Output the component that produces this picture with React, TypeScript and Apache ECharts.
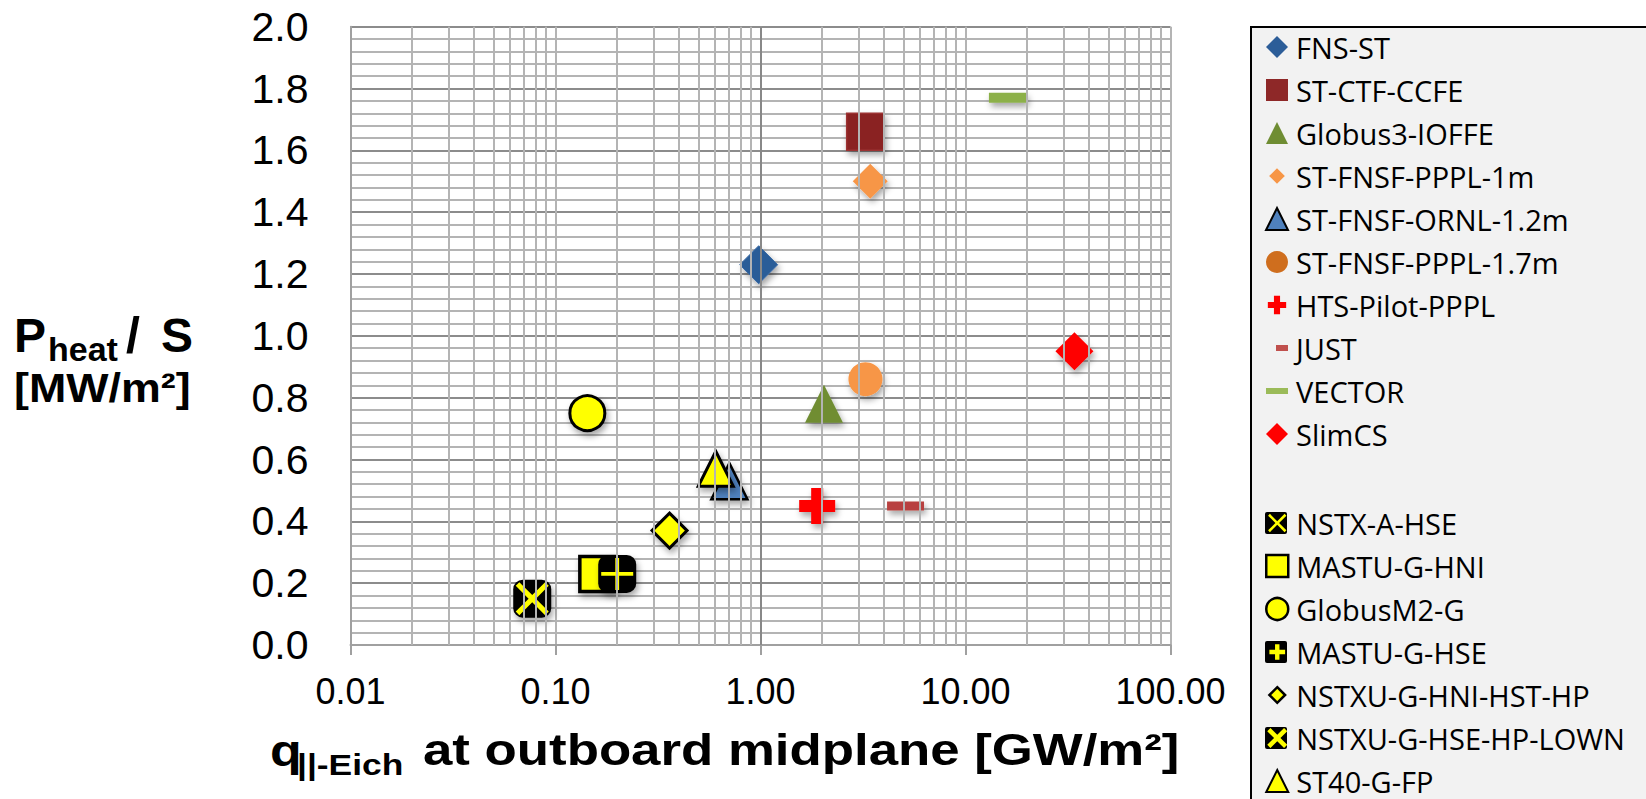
import React, { useEffect, useRef } from 'react';
import * as echarts from 'echarts';

// ---------- data ----------
const seriesNames = [
  'FNS-ST', 'ST-CTF-CCFE', 'Globus3-IOFFE', 'ST-FNSF-PPPL-1m', 'ST-FNSF-ORNL-1.2m',
  'ST-FNSF-PPPL-1.7m', 'HTS-Pilot-PPPL', 'JUST', 'VECTOR', 'SlimCS',
  'NSTX-A-HSE', 'MASTU-G-HNI', 'GlobusM2-G', 'MASTU-G-HSE', 'NSTXU-G-HNI-HST-HP',
  'NSTXU-G-HSE-HP-LOWN', 'ST40-G-FP',
];
// q||-Eich at outboard midplane [GW/m2]
const qEich: (number | null)[] = [0.98, 3.24, 2.04, 3.43, 0.705, 3.25, 1.89, 5.1, 16.1, 34, 0.077, 0.16, 0.143, 0.2, 0.36, null, 0.605];
// Pheat / S [MW/m2]
const pHeatS: (number | null)[] = [1.23, 1.66, 0.78, 1.5, 0.53, 0.86, 0.45, 0.45, 1.77, 0.95, 0.15, 0.23, 0.75, 0.23, 0.37, null, 0.57];

const legendGroupA = seriesNames.slice(0, 10);
const legendGroupB = seriesNames.slice(10);

const xMin = 0.01;
const xMax = 100;
const yMin = 0;
const yMax = 2;
const yInterval = 0.2;
const minorXGrid = [
  0.02, 0.03, 0.04, 0.05, 0.06, 0.07, 0.08, 0.09,
  0.2, 0.3, 0.4, 0.5, 0.6, 0.7, 0.8, 0.9,
  2, 3, 4, 5, 6, 7, 8, 9,
  20, 30, 40, 50, 60, 70, 80, 90,
];
const emphasisXGrid = [1];

// ---------- styles ----------
const PLUS_RED = 'path://M1,0H2V1H3V2H2V3H1V2H0V1H1Z';
const PLUS_RED_ICON = 'path://M-0.3,-0.3M3.3,3.3M1,0H2V1H3V2H2V3H1V2H0V1H1Z';
const X_THIN = 'path://M0,1.1L1.1,0L5,3.9L8.9,0L10,1.1L6.1,5L10,8.9L8.9,10L5,6.1L1.1,10L0,8.9L3.9,5Z';
const X_THIN_ICON = 'path://M-1,-1M11,11M0,1L1,0L5,4L9,0L10,1L6,5L10,9L9,10L5,6L1,10L0,9L4,5Z';
const X_THICK_ICON = 'path://M-0.5,-0.5M10.5,10.5M0,1.6L1.6,0L5,3.4L8.4,0L10,1.6L6.6,5L10,8.4L8.4,10L5,6.6L1.6,10L0,8.4L3.4,5Z';
const PLUS_THIN = 'path://M4.4,0H5.6V4.4H10V5.6H5.6V10H4.4V5.6H0V4.4H4.4Z';
const PLUS_ICON = 'path://M-2,-2M12,12M3.6,0H6.4V3.6H10V6.4H6.4V10H3.6V6.4H0V3.6H3.6Z';
const DIAMOND_SMALL_ICON = 'path://M-2,-2M12,12M5,0L10,5L5,10L0,5Z';
const DASH_JUST_ICON = 'path://M0,0M22,22M10,8H22V14H10Z';
const DASH_VECTOR_ICON = 'path://M0,0M22,22M0,8H22V14H0Z';

type Spec = {
  symbol: string; size: number | number[]; color: string; border?: string; bw?: number; bg?: boolean;
  icon: string; iconColor?: string; iconBorder?: string; iconBw?: number;
};

const specs: Record<string, Spec> = {
  'FNS-ST': { symbol: 'diamond', size: 38, color: '#2c5d98', border: '#3a6aa5', bw: 1, icon: 'diamond' },
  'ST-CTF-CCFE': { symbol: 'rect', size: 37, color: '#8a2424', border: '#9c3030', bw: 1.5, icon: 'rect', iconColor: '#8e2828' },
  'Globus3-IOFFE': { symbol: 'triangle', size: 38, color: '#6f8d33', icon: 'triangle' },
  'ST-FNSF-PPPL-1m': { symbol: 'diamond', size: 35, color: '#f79646', icon: DIAMOND_SMALL_ICON },
  'ST-FNSF-ORNL-1.2m': { symbol: 'triangle', size: 36, color: '#4f81bd', border: '#000', bw: 2.5, icon: 'triangle', iconBorder: '#000', iconBw: 2 },
  'ST-FNSF-PPPL-1.7m': { symbol: 'circle', size: 34, color: '#f79646', icon: 'circle', iconColor: '#cf6e1e' },
  'HTS-Pilot-PPPL': { symbol: PLUS_RED, size: 36, color: '#ff0000', icon: PLUS_RED_ICON },
  'JUST': { symbol: 'rect', size: [37, 9], color: '#b8413f', icon: DASH_JUST_ICON, iconColor: '#c0504d' },
  'VECTOR': { symbol: 'rect', size: [38, 10], color: '#8cb04a', icon: DASH_VECTOR_ICON, iconColor: '#9bbb59' },
  'SlimCS': { symbol: 'diamond', size: 38, color: '#ff0000', icon: 'diamond' },
  'NSTX-A-HSE': { symbol: X_THIN, size: 33, color: '#ffff00', bg: true, icon: X_THIN_ICON },
  'MASTU-G-HNI': { symbol: 'rect', size: 35, color: '#ffff00', border: '#000', bw: 3.5, icon: 'rect', iconBorder: '#000', iconBw: 2.5 },
  'GlobusM2-G': { symbol: 'circle', size: 35, color: '#ffff00', border: '#000', bw: 3, icon: 'circle', iconBorder: '#000', iconBw: 2.5 },
  'MASTU-G-HSE': { symbol: PLUS_THIN, size: 32, color: '#ffff00', bg: true, icon: PLUS_ICON },
  'NSTXU-G-HNI-HST-HP': { symbol: 'diamond', size: 35, color: '#ffff00', border: '#000', bw: 3, icon: DIAMOND_SMALL_ICON, iconBorder: '#000', iconBw: 2.5 },
  'NSTXU-G-HSE-HP-LOWN': { symbol: X_THIN, size: 33, color: '#ffff00', bg: true, icon: X_THICK_ICON },
  'ST40-G-FP': { symbol: 'triangle', size: 35, color: '#ffff00', border: '#000', bw: 3, icon: 'triangle', iconBorder: '#000', iconBw: 2 },
};

const shadow = { shadowBlur: 6, shadowColor: 'rgba(0,0,0,0.35)', shadowOffsetX: 2, shadowOffsetY: 4 };

const FONT_AXIS = 'Liberation Sans';
const FONT_LEGEND = 'Open Sans';

// legend layout
const legendIconLeft = 1265;
const legendATop = 32;
const legendBTop = 508;
const legendItemGap = 13;
const legendLineH = 30;
const legendStep = legendLineH + legendItemGap;

function buildOption() {
  const series: any[] = [];

  // grid helpers: minor log gridlines and the darker line at 1
  series.push({
    type: 'scatter', name: '__minorGrid', data: [], z: 1, silent: true,
    markLine: {
      silent: true, symbol: ['none', 'none'], label: { show: false }, animation: false,
      lineStyle: { type: 'solid', color: '#b4b4b4', width: 2, opacity: 1 },
      data: minorXGrid.map((v) => ({ xAxis: v })),
    },
  });
  series.push({
    type: 'scatter', name: '__majorGrid', data: [], z: 1, silent: true,
    markLine: {
      silent: true, symbol: ['none', 'none'], label: { show: false }, animation: false,
      lineStyle: { type: 'solid', color: '#888888', width: 2, opacity: 1 },
      data: emphasisXGrid.map((v) => ({ xAxis: v })),
    },
  });

  seriesNames.forEach((name, i) => {
    const s = specs[name];
    const data = qEich[i] != null && pHeatS[i] != null ? [[qEich[i], pHeatS[i]]] : [];
    if (s.bg) {
      series.push({
        type: 'scatter', name: '__bg_' + name, data, z: 3, symbol: 'roundRect', symbolSize: 38,
        itemStyle: { color: '#000', opacity: 1, ...shadow },
        emphasis: { disabled: true },
      });
    }
    series.push({
      type: 'scatter', name, data, z: 3, symbol: s.symbol, symbolSize: s.size,
      itemStyle: {
        color: s.color,
        opacity: 1,
        borderColor: s.border || s.color,
        borderWidth: s.bw || 0,
        ...(s.bg ? {} : shadow),
      },
      emphasis: { disabled: true },
    });
  });

  const legendItem = (name: string) => {
    const s = specs[name];
    return {
      name,
      icon: s.icon,
      itemStyle: {
        color: s.iconColor || s.color,
        opacity: 1,
        borderColor: s.iconBorder || 'transparent',
        borderWidth: s.iconBw || 0,
        shadowBlur: 0,
        shadowColor: 'rgba(0,0,0,0)',
      },
    };
  };

  const legendCommon = {
    orient: 'vertical', left: legendIconLeft, padding: 0, itemWidth: 22, itemHeight: 22,
    itemGap: legendItemGap, selectedMode: false, z: 10,
    textStyle: { fontFamily: FONT_LEGEND, fontSize: 29, color: '#000', lineHeight: legendLineH, padding: [0, 0, 0, 3] },
  };

  const bgLegendNames = ['NSTX-A-HSE', 'MASTU-G-HSE', 'NSTXU-G-HSE-HP-LOWN'];
  const bgRects = bgLegendNames.map((n) => {
    const idx = legendGroupB.indexOf(n);
    const cy = legendBTop + legendLineH / 2 + idx * legendStep;
    return {
      type: 'rect', z: 5, silent: true,
      shape: { x: legendIconLeft, y: cy - 11, width: 22, height: 22, r: 2 },
      style: { fill: '#000' },
    };
  });

  const txt = (text: string, x: number, y: number, size: number, scaleX = 1) => ({
    type: 'text', x, y, scaleX, z: 10, silent: true,
    style: {
      text, fill: '#000', fontFamily: FONT_AXIS, fontWeight: 'bold', fontSize: size,
      textAlign: 'left', textVerticalAlign: 'middle', align: 'left', verticalAlign: 'middle',
    },
  });

  return {
    animation: false,
    backgroundColor: '#ffffff',
    grid: { left: 350.5, top: 26.7, right: 475.5, bottom: 154, containLabel: false },
    xAxis: {
      type: 'log', logBase: 10, min: xMin, max: xMax,
      axisLine: { show: true, lineStyle: { color: '#a0a0a0', width: 2 } },
      axisTick: { show: true, inside: false, length: 10, lineStyle: { color: '#a0a0a0', width: 2 } },
      axisLabel: {
        fontFamily: FONT_AXIS, fontSize: 36, color: '#000', margin: 28,
        formatter: (v: number) => Number(v).toFixed(2),
      },
      splitLine: { show: true, lineStyle: { color: '#b4b4b4', width: 2 } },
    },
    yAxis: {
      type: 'value', min: yMin, max: yMax, interval: yInterval,
      axisLine: { show: true, onZero: false, lineStyle: { color: '#a0a0a0', width: 2 } },
      axisTick: { show: false },
      axisLabel: {
        fontFamily: FONT_AXIS, fontSize: 41, color: '#000', margin: 42,
        formatter: (v: number) => Number(v).toFixed(1),
      },
      splitLine: { show: true, lineStyle: { color: '#8c8c8c', width: 2 } },
      minorTick: { show: false, splitNumber: 5 },
      minorSplitLine: { show: true, lineStyle: { color: '#b4b4b4', width: 2 } },
    },
    legend: [
      { ...legendCommon, top: legendATop, data: legendGroupA.map(legendItem) },
      { ...legendCommon, top: legendBTop, data: legendGroupB.map(legendItem) },
    ],
    graphic: [
      {
        type: 'rect', z: 1, silent: true,
        shape: { x: 1251, y: 27, width: 460, height: 820 },
        style: { fill: '#f2f2f2', stroke: '#000', lineWidth: 2 },
      },
      ...bgRects,
      // y-axis title
      txt('P', 14, 335, 48),
      txt('heat', 48, 349, 34),
      txt('/', 126, 335, 50),
      txt('S', 161, 335, 48),
      txt('[MW/m²]', 14, 388, 40, 1.12),
      // x-axis title
      txt('q', 270, 750, 44, 1.18),
      txt('||-Eich', 297, 764, 30, 1.18),
      txt('at outboard midplane [GW/m²]', 423, 750, 44, 1.2),
    ],
    series,
  };
}

export default function App() {
  const ref = useRef<HTMLDivElement>(null);
  useEffect(() => {
    if (!ref.current) return;
    const chart = echarts.init(ref.current, undefined, { renderer: 'svg' });
    chart.setOption(buildOption() as any);
    return () => chart.dispose();
  }, []);
  return (
    <div
      ref={ref}
      style={{ position: 'absolute', left: 0, top: 0, width: 1646, height: 799, background: '#fff' }}
    />
  );
}
